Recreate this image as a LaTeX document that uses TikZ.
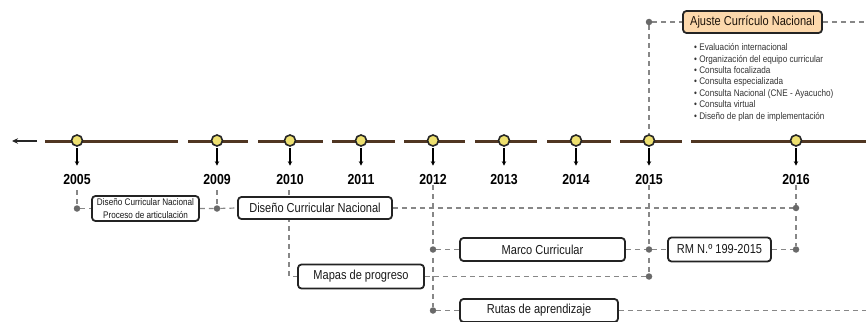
\documentclass[tikz,border=0pt]{standalone}
\usepackage{fontspec}
\setmainfont{Liberation Sans}
\newfontfamily\narrowfont[FakeStretch=0.85]{Liberation Sans}
\usetikzlibrary{arrows.meta,backgrounds}
\definecolor{lineBrown}{RGB}{80,54,34}
\definecolor{dashGray}{RGB}{135,135,135}
\definecolor{dotGray}{RGB}{105,105,105}
\definecolor{markYellow}{RGB}{238,224,112}
\definecolor{boxEdge}{RGB}{35,35,35}
\definecolor{peach}{RGB}{252,216,172}
\tikzset{
  tl/.style={draw=lineBrown,line width=3.1pt},
  marker/.style={circle,draw=black!85,fill=markYellow,line width=1.6pt,minimum size=11pt,inner sep=0pt},
  yearlbl/.style={inner sep=0pt,font=\narrowfont\bfseries\fontsize{14.5}{14.5}\selectfont},
  downarrow/.style={draw=black,line width=1.1pt,-{Stealth[length=4.5pt,width=4.5pt]},shorten <=1pt,shorten >=9pt},
  dline/.style={draw=dashGray,line width=1.2pt,dash pattern=on 5pt off 4pt},
  dot/.style={circle,fill=dotGray,minimum size=6.5pt,inner sep=0pt},
  cbox/.style={draw=boxEdge,line width=1.8pt,rounded corners=3.5pt,fill=white,inner sep=0pt,
     font=\narrowfont\fontsize{13}{13}\selectfont,text=black!90},
}
\begin{document}
\begin{tikzpicture}[x=1pt,y=-1pt]
\useasboundingbox (0,0) rectangle (866,321);
% timeline
\draw[draw=black!85,line width=1.7pt,-{Stealth[length=6pt,width=5.5pt]}] (37,141) -- (12,141);
\foreach \a/\b in {45/178,188/248,258/323,332/395,404/465,475/537,547/611,620/682,691/866}
  \draw[tl] (\a,141.5) -- (\b,141.5);
% markers, arrows, years
\foreach \yr/\x in {2005/77,2009/217,2010/290,2011/361,2012/433,2013/504,2014/576,2015/649,2016/796}{
  \node[marker] (m\yr) at (\x,140.5) {};
  \node[yearlbl] (y\yr) at (\x,180) {\yr};
  \draw[downarrow] (m\yr.south) -- (y\yr.north);
}
% boxes
\node[cbox,minimum width=107pt,minimum height=25pt,align=center,font=\narrowfont\fontsize{9.6}{12.5}\selectfont] (b1) at (145.5,208.5) {Diseño Curricular Nacional\\Proceso de articulación};
\node[cbox,minimum width=154pt,minimum height=22pt] (b2) at (315,208) {Diseño Curricular Nacional};
\node[cbox,minimum width=126pt,minimum height=24pt] (mapas) at (361,276.5) {Mapas de progreso};
\node[cbox,minimum width=165pt,minimum height=23pt] (marco) at (542.5,249.5) {Marco Curricular};
\node[cbox,minimum width=103pt,minimum height=24pt] (rm) at (719.5,249.5) {RM N.º 199-2015};
\node[cbox,minimum width=158pt,minimum height=23pt] (rutas) at (539,310.5) {Rutas de aprendizaje};
\node[cbox,fill=peach,minimum width=139pt,minimum height=22pt,text=black!85!brown] (ajuste) at (752.5,22) {Ajuste Currículo Nacional};
\node[anchor=north west,inner sep=0pt,align=left,text=black!80,font=\narrowfont\fontsize{9.6}{11.4}\selectfont] (list) at (694,43.5)
 {• Evaluación internacional\\
  • Organización del equipo curricular\\
  • Consulta focalizada\\
  • Consulta especializada\\
  • Consulta Nacional (CNE - Ayacucho)\\
  • Consulta virtual\\
  • Diseño de plan de implementación};
% dots
\node[dot] (d05) at (77,208.5) {};
\node[dot] (d09) at (217,208.5) {};
\node[dot] (d16a) at (796,208) {};
\node[dot] (d12a) at (433,249.5) {};
\node[dot] (d15a) at (649,249.5) {};
\node[dot] (d16b) at (796,249.5) {};
\node[dot] (d15b) at (649,276.5) {};
\node[dot] (d12b) at (433,310.5) {};
\node[dot] (dtop) at (649,22) {};
\coordinate (e1) at (866,22);
\coordinate (e2) at (866,310.5);
\coordinate (c10) at (289,276.5);
% dashed connectors
\begin{pgfonlayer}{background}
\draw[dline,shorten <=5pt] (y2005.south) -- (d05);
\draw[dline] (d05) -- (b1.west);
\draw[dline] (b1.east) -- (d09) -- (b2.west);
\draw[dline,shorten <=5pt] (y2009.south) -- (d09);
\draw[dline] (b2.east) -- (d16a);
\draw[dline,shorten <=5pt] (y2016.south) -- (d16a) -- (d16b);
\draw[dline,shorten <=5pt] (y2010.south -| c10) -- (c10) -- (mapas.west);
\draw[dline,shorten <=5pt] (y2012.south) -- (d12a) -- (d12b);
\draw[dline] (d12a) -- (marco.west);
\draw[dline] (d12b) -- (rutas.west);
\draw[dline] (marco.east) -- (d15a) -- (rm.west);
\draw[dline] (rm.east) -- (d16b);
\draw[dline] (mapas.east) -- (d15b);
\draw[dline] (dtop) -- (m2015.north);
\draw[dline,shorten <=5pt] (y2015.south) -- (d15a) -- (d15b);
\draw[dline] (dtop) -- (ajuste.west);
\draw[dline] (ajuste.east) -- (e1);
\draw[dline] (rutas.east) -- (e2);
\end{pgfonlayer}
\end{tikzpicture}
\end{document}
